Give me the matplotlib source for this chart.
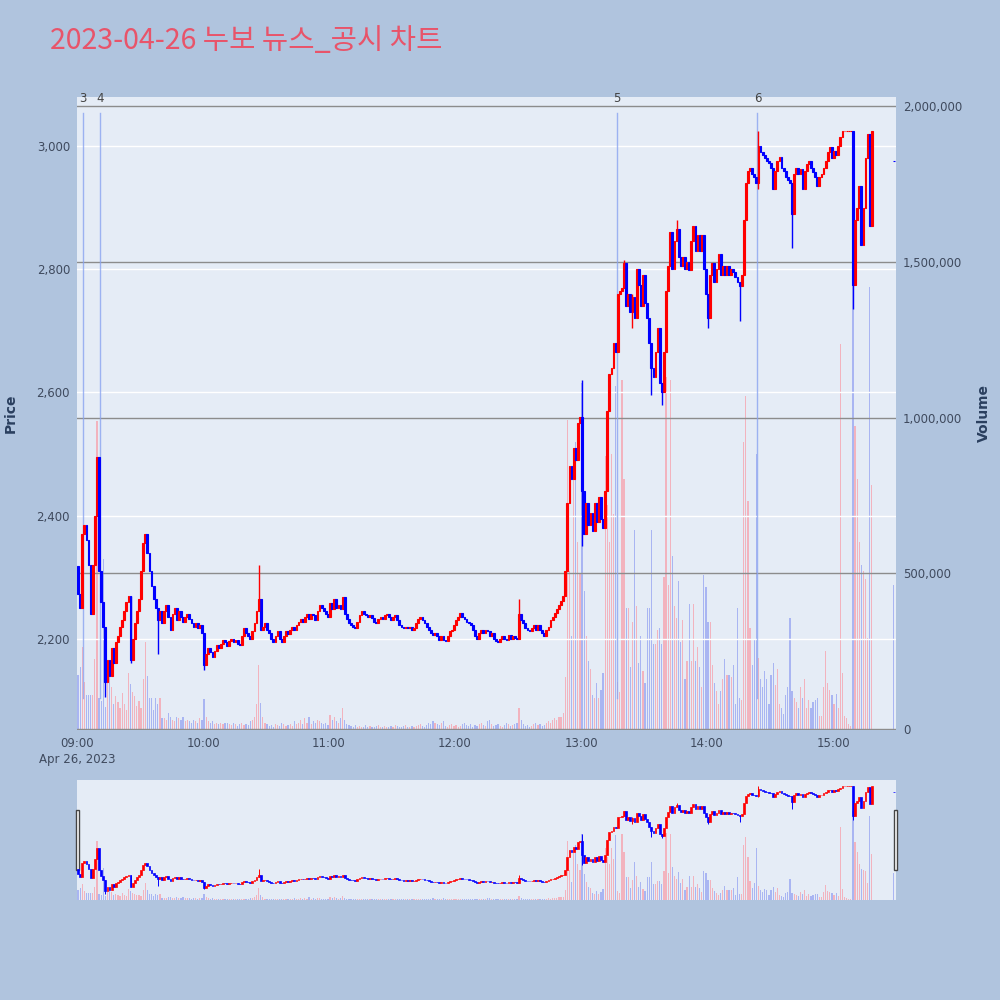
import numpy as np
import matplotlib
matplotlib.use("Agg")
import matplotlib.pyplot as plt
from matplotlib.patches import Rectangle
from matplotlib.transforms import blended_transform_factory

# ---------------- data (1-minute bars from 09:00) ----------------
first_open = 2318
closes = [
    2272, 2250, 2370, 2385, 2360, 2320, 2240, 2320, 2400, 2495,
    2310, 2260, 2220, 2130, 2165, 2140, 2185, 2160, 2195, 2205,
    2220, 2230, 2245, 2260, 2270, 2165, 2200, 2225, 2245, 2265,
    2310, 2355, 2370, 2340, 2310, 2285, 2265, 2250, 2230, 2245,
    2225, 2245, 2255, 2235, 2215, 2240, 2250, 2230, 2245, 2235,
    2228, 2235, 2240, 2232, 2225, 2220, 2226, 2218, 2222, 2210,
    2158, 2175, 2185, 2178, 2170, 2180, 2190, 2185, 2192, 2198,
    2195, 2188, 2196, 2200, 2195, 2198, 2192, 2190, 2205, 2218,
    2210, 2205, 2200, 2212, 2225, 2245, 2265, 2215, 2220, 2225,
    2215, 2210, 2200, 2195, 2205, 2212, 2200, 2195, 2205, 2212,
    2208, 2215, 2220, 2215, 2222, 2228, 2232, 2228, 2235, 2240,
    2232, 2240, 2238, 2230, 2245, 2255, 2250, 2245, 2240, 2235,
    2258, 2248, 2265, 2250, 2255, 2248, 2268, 2240, 2232, 2225,
    2222, 2220, 2218, 2228, 2238, 2245, 2240, 2238, 2236, 2238,
    2233, 2228, 2226, 2232, 2236, 2232, 2238, 2240, 2236, 2230,
    2236, 2238, 2230, 2222, 2220, 2218, 2220, 2218, 2219, 2215,
    2218, 2226, 2232, 2236, 2230, 2226, 2220, 2215, 2210, 2206,
    2210, 2204, 2198, 2205, 2198, 2196, 2205, 2212, 2215, 2222,
    2230, 2236, 2242, 2236, 2232, 2228, 2225, 2222, 2215, 2205,
    2200, 2210, 2215, 2210, 2215, 2212, 2205, 2210, 2200, 2196,
    2195, 2200, 2205, 2200, 2198, 2206, 2200, 2205, 2202, 2200,
    2240, 2230, 2225, 2218, 2215, 2212, 2218, 2222, 2215, 2222,
    2215, 2210, 2205, 2215, 2220, 2230, 2235, 2242, 2248, 2255,
    2262, 2270, 2310, 2420, 2480, 2460, 2510, 2490, 2550, 2560,
    2440, 2370, 2420, 2385, 2405, 2375, 2420, 2390, 2430, 2395,
    2380, 2440, 2570, 2630, 2640, 2680, 2665, 2760, 2765, 2770,
    2810, 2740, 2760, 2730, 2755, 2720, 2800, 2775, 2740, 2790,
    2745, 2720, 2680, 2640, 2625, 2665, 2705, 2615, 2600, 2665,
    2765, 2805, 2860, 2800, 2845, 2865, 2820, 2805, 2820, 2800,
    2812, 2798, 2845, 2870, 2830, 2855, 2830, 2855, 2800, 2760,
    2720, 2790, 2810, 2780, 2800, 2825, 2790, 2805, 2790, 2805,
    2790, 2800, 2795, 2788, 2780, 2772, 2790, 2880, 2940, 2960,
    2965, 2955, 2950, 2940, 3000, 2990, 2985, 2980, 2975, 2972,
    2965, 2930, 2960, 2975, 2982, 2965, 2960, 2950, 2945, 2940,
    2890, 2955, 2965, 2955, 2962, 2930, 2960, 2970, 2975, 2965,
    2958, 2950, 2935, 2950, 2955, 2965, 2975, 2990, 2998, 2980,
    2992, 2985, 3000, 3015, 3025, 3025, 3025, 3025, 3025, 2775,
    2880, 2900, 2935, 2840, 2900, 2980, 3020, 2870, 3025,
]
volumes_k = [
    173, 200, 265, 150, 108, 110, 108, 110, 225, 990,
    100, 90, 547, 70, 147, 193, 135, 80, 105, 88,
    68, 115, 80, 60, 180, 145, 120, 105, 75, 90,
    68, 160, 278, 170, 100, 100, 62, 100, 80, 100,
    35, 35, 30, 50, 40, 30, 25, 40, 35, 30,
    40, 25, 30, 25, 20, 30, 25, 20, 35, 30,
    95, 40, 25, 20, 25, 15, 20, 15, 20, 15,
    18, 20, 15, 12, 20, 15, 10, 15, 20, 12,
    15, 12, 25, 30, 40, 80, 206, 85, 40, 20,
    15, 10, 12, 8, 15, 12, 10, 20, 15, 10,
    12, 15, 10, 25, 15, 20, 30, 15, 35, 20,
    40, 15, 25, 20, 30, 25, 18, 15, 20, 12,
    45, 30, 40, 25, 20, 35, 68, 30, 15, 12,
    10, 8, 12, 8, 10, 6, 8, 12, 8, 10,
    6, 8, 10, 12, 8, 6, 10, 8, 6, 10,
    8, 12, 10, 6, 8, 10, 12, 8, 6, 10,
    8, 10, 12, 15, 10, 8, 12, 20, 15, 25,
    20, 15, 12, 20, 25, 10, 8, 12, 15, 10,
    12, 8, 10, 15, 20, 12, 10, 15, 8, 12,
    10, 15, 20, 12, 10, 25, 30, 15, 10, 12,
    15, 10, 8, 12, 20, 15, 10, 12, 15, 20,
    68, 30, 15, 10, 12, 8, 10, 15, 20, 12,
    15, 10, 12, 18, 25, 20, 28, 35, 30, 40,
    40, 50, 167, 993, 508, 300, 803, 921, 600, 500,
    1110, 442, 299, 219, 193, 108, 101, 147, 101, 127,
    180, 875, 718, 600, 882, 690, 1100, 150, 120, 1120,
    803, 390, 390, 200, 344, 639, 396, 213, 298, 186,
    147, 390, 390, 639, 272, 272, 318, 325, 272, 488,
    1130, 462, 1120, 554, 396, 357, 475, 278, 350, 160,
    220, 403, 220, 403, 220, 265, 200, 134, 495, 456,
    344, 344, 206, 147, 121, 81, 121, 160, 226, 174,
    174, 167, 206, 81, 390, 101, 94, 921, 1070, 731,
    324, 206, 285, 882, 229, 160, 134, 186, 160, 81,
    173, 213, 140, 193, 81, 68, 49, 108, 134, 357,
    121, 101, 88, 68, 134, 101, 160, 68, 94, 68,
    88, 94, 101, 42, 42, 134, 252, 147, 127, 108,
    81, 114, 68, 1236, 180, 42, 35, 16, 9, 1500,
    973, 803, 600, 527, 508, 481, 291, 1420, 783,
]
# wicks that stick out of the bodies
spike_minutes = [13, 25, 38, 60, 86, 210, 240, 260, 264, 273, 278, 285, 300, 315, 324, 340, 369]
spike_highs = [2220, 2270, 2250, 2210, 2320, 2264, 2620, 2815, 2760, 2680, 2615, 2880, 2760, 2780, 3025, 2940, 3025]
spike_lows = [2105, 2160, 2175, 2150, 2245, 2200, 2350, 2770, 2705, 2595, 2580, 2845, 2705, 2716, 2930, 2835, 2735]
# closing auction print
auction_minute = 389
auction_price = 2975
auction_volume_k = 462
# news / disclosure events
event_minutes = [3, 11, 257, 324]
event_labels = ["3", "4", "5", "6"]

title = "2023-04-26 누보 뉴스_공시 차트"
price_ticks = [2200, 2400, 2600, 2800, 3000]
volume_ticks = [0, 500000, 1000000, 1500000, 2000000]
hour_ticks = [0, 60, 120, 180, 240, 300, 360]
hour_labels = ["09:00\nApr 26, 2023", "10:00", "11:00", "12:00", "13:00", "14:00", "15:00"]

# ---------------- styling ----------------
PAGE = "#B0C4DE"
PLOT_BG = "#E5ECF6"
UP = "#FF0000"
DOWN = "#0000FF"
VUP = "#F2B3BE"
VDOWN = "#A9B5F2"
TXT = "#3f4a5e"
PRICE_LIM = (2052, 3079.5)
VOL_LIM = (-3000, 2029000)
X_LIM = (0, 390)

opens = [first_open] + closes[:-1]
n = len(closes)
xs = np.arange(n) + 0.5
cols = [UP if c >= o else DOWN for o, c in zip(opens, closes)]
vcols = [VUP if c >= o else VDOWN for o, c in zip(opens, closes)]
vols = np.array(volumes_k) * 1000.0

plt.rcParams["font.family"] = ["DejaVu Sans"]

fig = plt.figure(figsize=(10, 10), dpi=100, facecolor=PAGE)


def draw(ax_p, ax_v, body_lw, wick_lw):
    ax_v.patch.set_visible(True)
    ax_v.set_facecolor(PLOT_BG)
    ax_p.patch.set_visible(False)
    ax_p.set_zorder(2)
    ax_v.set_zorder(1)
    # volume
    ax_v.bar(xs, vols, width=0.55, color=vcols, linewidth=0, antialiased=False)
    ax_v.bar([auction_minute], [auction_volume_k * 1000], width=0.55, color=VDOWN,
             linewidth=0, antialiased=False)
    # candles
    lo_b = np.minimum(opens, closes)
    hi_b = np.maximum(opens, closes)
    ax_p.bar(xs, hi_b - lo_b, bottom=lo_b, width=0.85, color=cols, edgecolor=cols,
             linewidth=body_lw, zorder=3)
    for m, h, l in zip(spike_minutes, spike_highs, spike_lows):
        ax_p.vlines(m + 0.5, l, h, color=cols[m], linewidth=wick_lw, zorder=3)
    ax_p.bar([auction_minute], [0.0], bottom=[auction_price], width=0.6, color=DOWN,
             edgecolor=DOWN, linewidth=body_lw, zorder=3)
    ax_p.set_xlim(*X_LIM)
    ax_p.set_ylim(*PRICE_LIM)
    ax_v.set_ylim(*VOL_LIM)
    for a in (ax_p, ax_v):
        for s in a.spines.values():
            s.set_visible(False)


# ---------------- main chart ----------------
ax_p = fig.add_axes([0.077, 0.270, 0.819, 0.633])
ax_v = ax_p.twinx()
draw(ax_p, ax_v, 0.8, 1.0)

ax_p.set_axisbelow(True)
ax_p.set_yticks(price_ticks)
ax_p.set_yticklabels([f"{t:,}" for t in price_ticks])
ax_p.yaxis.grid(True, color="white", linewidth=1.0)
ax_p.tick_params(axis="y", length=0, pad=5, labelsize=8.5, labelcolor=TXT)
ax_p.set_xticks(hour_ticks)
ax_p.set_xticklabels(hour_labels, linespacing=1.35)
ax_p.tick_params(axis="x", length=0, pad=5, labelsize=8.5, labelcolor=TXT)

ax_v.set_yticks(volume_ticks)
ax_v.set_yticklabels([f"{t:,}" for t in volume_ticks])
ax_v.yaxis.grid(True, color="#8c8c8c", linewidth=1.0)
ax_v.tick_params(axis="y", length=0, pad=5, labelsize=8.5, labelcolor=TXT)

trans = blended_transform_factory(ax_p.transData, ax_p.transAxes)
for m, lab in zip(event_minutes, event_labels):
    ax_p.axvline(m, ymin=0.05, ymax=0.975, color="#8aa4f0", alpha=0.8, linewidth=1.0, zorder=1)
    ax_p.text(m, 0.998, lab, transform=trans, ha="center", va="center", fontsize=8.5,
              color="#444444")

fig.text(0.011, 0.587, "Price", rotation=90, ha="center", va="center", fontsize=10,
         fontweight="bold", color="#2a3f5f")
fig.text(0.984, 0.587, "Volume", rotation=90, ha="center", va="center", fontsize=10,
         fontweight="bold", color="#2a3f5f")
fig.text(0.050, 0.959, title, ha="left", va="center", fontsize=20.6, color="#E8546A",
         family=["Noto Sans CJK KR", "DejaVu Sans"])

# ---------------- range slider ----------------
ax_s = fig.add_axes([0.077, 0.100, 0.819, 0.120])
ax_sv = ax_s.twinx()
draw(ax_s, ax_sv, 0.5, 0.7)
for a in (ax_s, ax_sv):
    a.set_xticks([])
    a.set_yticks([])
for xh in (0.0755, 0.8935):
    fig.patches.append(Rectangle((xh, 0.130), 0.0035, 0.060, transform=fig.transFigure,
                                 facecolor="white", edgecolor="#444444", linewidth=1.0))

fig.savefig("out.png", dpi=100, facecolor=PAGE)
